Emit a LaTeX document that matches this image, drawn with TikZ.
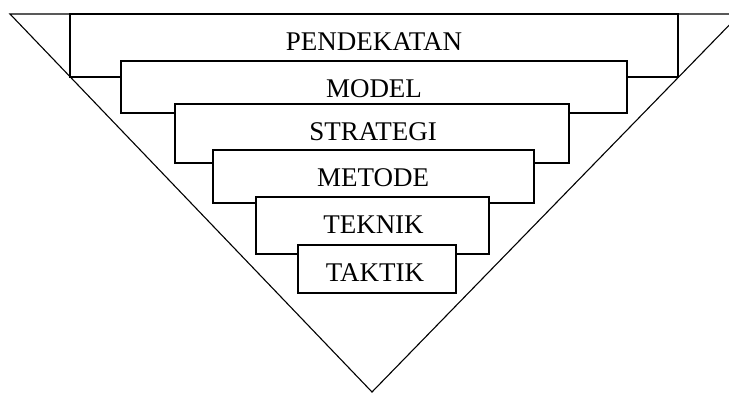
\documentclass[tikz,border=0pt]{standalone}
\usepackage{fontspec}
\setmainfont{Liberation Serif}
\begin{document}
\begin{tikzpicture}[x=1pt,y=-1pt,
  tri/.style={draw=black,line width=1.1pt,line join=miter},
  lvlbox/.style={draw=black,fill=white,line width=1.2pt},
  lbl/.style={font=\fontsize{27}{31}\selectfont,anchor=base,inner sep=0pt}]
\clip (0,0) rectangle (729,392);
\fill[white] (0,0) rectangle (729,392);
\coordinate (tl) at (10,14);
\coordinate (tr) at (740,14);
\coordinate (ap) at (372,392);
\draw[tri] (tl) -- (tr) -- (ap) -- cycle;
\draw[lvlbox] (70,14) rectangle (678,77);
\draw[lvlbox] (121,61) rectangle (627,113);
\draw[lvlbox] (175,104) rectangle (569,163);
\draw[lvlbox] (213,150) rectangle (534,203);
\draw[lvlbox] (256,197) rectangle (489,254);
\draw[lvlbox] (298,245) rectangle (456,293);
\node[lbl] (t1) at (374,50) {PENDEKATAN};
\node[lbl] (t2) at (374,97) {MODEL};
\node[lbl] (t3) at (373,140) {STRATEGI};
\node[lbl] (t4) at (373,186) {METODE};
\node[lbl] (t5) at (373.5,233) {TEKNIK};
\node[lbl] (t6) at (375,281) {TAKTIK};
\end{tikzpicture}
\end{document}
